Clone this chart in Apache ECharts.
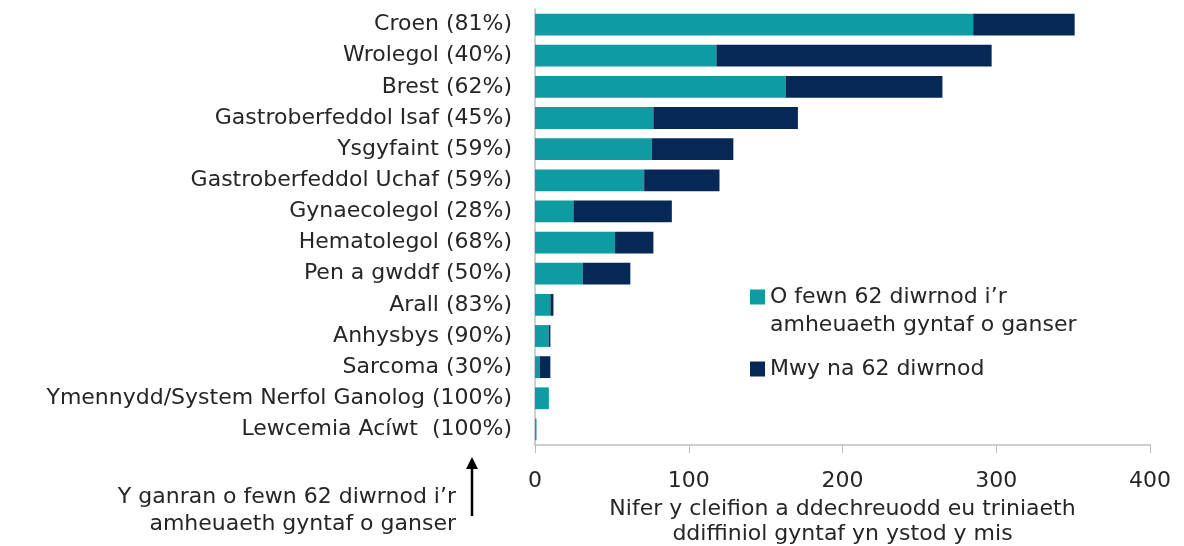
<!DOCTYPE html>
<html>
<head>
<meta charset="utf-8">
<script src="https://cdn.jsdelivr.net/npm/echarts@6/dist/echarts.min.js"></script>
<style>
html,body{margin:0;padding:0;background:#fff;}
#chart{width:1184px;height:546px;}
</style>
</head>
<body>
<div id="chart"></div>
<script>
var categories=['Croen (81%)','Wrolegol (40%)','Brest (62%)','Gastroberfeddol Isaf (45%)','Ysgyfaint (59%)',
	'Gastroberfeddol Uchaf (59%)','Gynaecolegol (28%)','Hematolegol (68%)','Pen a gwddf (50%)','Arall (83%)',
	'Anhysbys (90%)','Sarcoma (30%)','Ymennydd/System Nerfol Ganolog (100%)','Lewcemia Acíwt  (100%)'];
var within62=[285,118,163,77,76,71,25,52,31,10,9,3,9,1];
var over62=[66,179,102,94,53,49,64,25,31,2,1,7,0,0];
var seriesNames=['O fewn 62 diwrnod i\u2019r\namheuaeth gyntaf o ganser','Mwy na 62 diwrnod'];
var axisTitle='Nifer y cleifion a ddechreuodd eu triniaeth\nddiffiniol gyntaf yn ystod y mis';
var noteText='Y ganran o fewn 62 diwrnod i\u2019r\namheuaeth gyntaf o ganser';

var fontName='DejaVu Sans';
var fs=22;
var txtColor='#262626';
var chart=echarts.init(document.getElementById('chart'));
var option={
	color:['#0e9ca2','#062856'],
	textStyle:{fontFamily:fontName},
	animation:false,
	grid:{left:535,right:34,top:9,bottom:101,outerBoundsMode:'none',containLabel:false},
	legend:[
		{
			data:[seriesNames[0]],
			left:750,top:255,padding:0,
			itemWidth:15,itemHeight:15,
			icon:'rect',
			// blank first line so the icon sits level with the first text line
			formatter:function(n){return ' \n'+n;},
			textStyle:{fontFamily:fontName,fontSize:fs,color:txtColor,lineHeight:28}
		},
		{
			data:[seriesNames[1]],
			left:750,top:355,padding:0,
			itemWidth:15,itemHeight:15,
			icon:'rect',
			textStyle:{fontFamily:fontName,fontSize:fs,color:txtColor,lineHeight:28}
		}
	],
	xAxis:{
		type:'value',
		min:0,max:400,interval:100,
		axisLine:{show:true,lineStyle:{color:'#bfbfbf',width:1.5}},
		axisTick:{show:true,length:8,lineStyle:{color:'#bfbfbf'}},
		splitLine:{show:false},
		axisLabel:{fontFamily:fontName,fontSize:fs,color:txtColor,margin:25},
		name:axisTitle,
		nameLocation:'middle',
		nameGap:50,
		nameTextStyle:{fontFamily:fontName,fontSize:fs,color:txtColor,lineHeight:25}
	},
	yAxis:{
		type:'category',
		inverse:true,
		data:categories,
		axisLine:{show:true,lineStyle:{color:'#bfbfbf',width:1.5}},
		axisTick:{show:false},
		axisLabel:{fontFamily:fontName,fontSize:fs,color:txtColor,margin:23}
	},
	graphic:[
		{
			type:'text',
			x:456,y:484,
			style:{text:noteText,font:fs+'px "'+fontName+'"',fill:txtColor,align:'right',verticalAlign:'top',lineHeight:27}
		},
		{
			type:'line',
			shape:{x1:472,y1:516,x2:472,y2:465},
			style:{stroke:'#000',lineWidth:2.5}
		},
		{
			type:'polygon',
			shape:{points:[[472,457],[466,469],[478,469]]},
			style:{fill:'#000'}
		}
	],
	series:[
		{
			name:seriesNames[0],
			type:'bar',
			stack:'total',
			barCategoryGap:'30%',
			data:within62
		},
		{
			name:seriesNames[1],
			type:'bar',
			stack:'total',
			barCategoryGap:'30%',
			data:over62
		}
	]
};
chart.setOption(option);
</script>
</body>
</html>
